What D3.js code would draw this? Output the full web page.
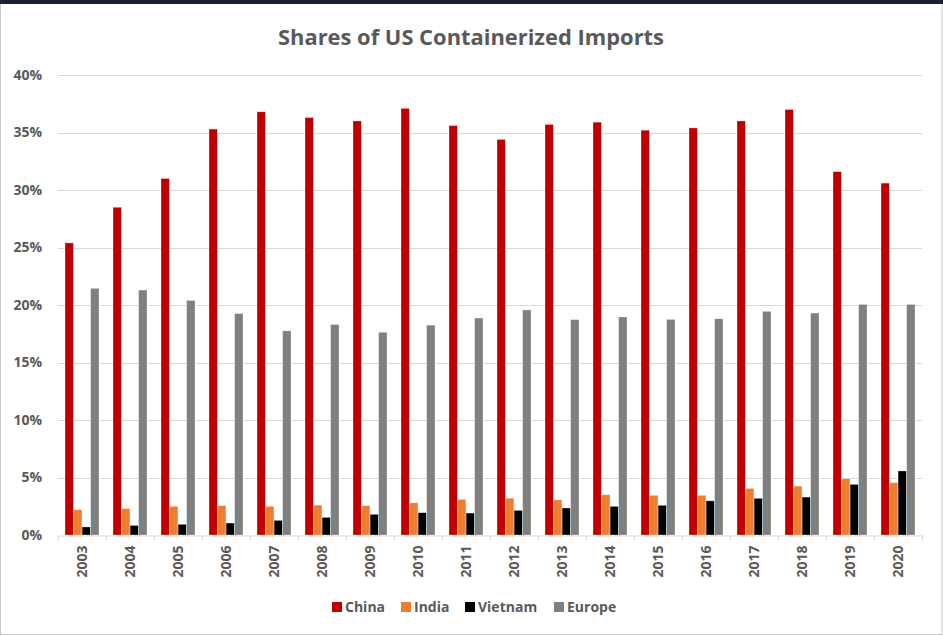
<!DOCTYPE html>
<html>
<head>
<meta charset="utf-8">
<script src="https://cdn.jsdelivr.net/npm/d3@7/dist/d3.min.js"></script>
<style>
html,body{margin:0;padding:0;background:#fff;}
svg{display:block;}
</style>
</head>
<body>
<svg id="chart" width="943" height="636"></svg>
<script>
const years = ["2003","2004","2005","2006","2007","2008","2009","2010","2011","2012","2013","2014","2015","2016","2017","2018","2019","2020"];
const seriesNames = ["China","India","Vietnam","Europe"];
const china   = [25.4,28.5,31.0,35.3,36.8,36.3,36.0,37.1,35.6,34.4,35.7,35.9,35.2,35.4,36.0,37.0,31.6,30.6];
const india   = [2.2,2.3,2.5,2.55,2.5,2.6,2.55,2.8,3.1,3.2,3.05,3.5,3.45,3.45,4.05,4.25,4.9,4.55];
const vietnam = [0.7,0.83,0.93,1.04,1.27,1.53,1.8,1.94,1.91,2.14,2.35,2.49,2.58,2.97,3.19,3.3,4.4,5.57];
const europe  = [21.45,21.3,20.4,19.25,17.75,18.3,17.63,18.25,18.87,19.57,18.73,18.96,18.75,18.8,19.45,19.3,20.05,20.05];
const yTicks = [0,5,10,15,20,25,30,35,40];
const colors = ["#C00000","#ED7D31","#000000","#808080"];
const title = "Shares of US Containerized Imports";

const valuesBySeries = [china, india, vietnam, europe];
const svg = d3.select("#chart");
const W = 943, H = 636;
const m = {left:58, right:21, top:75, bottom:101};
const font = "'Open Sans', 'Noto Sans', sans-serif";
const textColor = "#595959";

// frame
svg.append("rect").attr("x",0).attr("y",0).attr("width",W).attr("height",H).attr("fill","#fff");
svg.append("rect").attr("x",0.5).attr("y",0.5).attr("width",W-1.5).attr("height",H-2).attr("fill","none").attr("stroke","#c8c8c8").attr("stroke-width",1);
svg.append("rect").attr("x",0).attr("y",0).attr("width",W).attr("height",4).attr("fill","#1b2030");

const x = d3.scaleBand().domain(years).range([m.left, W - m.right]).paddingInner(0).paddingOuter(0);
const xs = d3.scaleBand().domain(seriesNames).range([0, x.bandwidth()]).paddingInner(0.02).paddingOuter(0.82);
const y = d3.scaleLinear().domain([0,40]).range([H - m.bottom, m.top]);

// gridlines
svg.append("g").selectAll("line").data(yTicks.filter(d=>d>0)).join("line")
  .attr("x1", m.left).attr("x2", W - m.right)
  .attr("y1", d => Math.round(y(d))+0.5).attr("y2", d => Math.round(y(d))+0.5)
  .attr("stroke","#d9d9d9").attr("stroke-width",1);

// y axis labels
const yAxis = d3.axisLeft(y).tickValues(yTicks).tickFormat(d => d + "%").tickSize(0).tickPadding(16);
const yg = svg.append("g").attr("transform", `translate(${m.left},0)`).call(yAxis);
yg.select(".domain").remove();
yg.selectAll("text").attr("font-family", font).attr("font-size", 14).attr("font-weight", "bold").attr("fill", textColor);

// bars
const data = [];
years.forEach((yr, i) => seriesNames.forEach((s, j) => data.push({yr, s, v: valuesBySeries[j][i], c: colors[j]})));
svg.append("g").selectAll("rect").data(data).join("rect")
  .attr("x", d => x(d.yr) + xs(d.s))
  .attr("width", xs.bandwidth())
  .attr("y", d => y(d.v))
  .attr("height", d => y(0) - y(d.v))
  .attr("fill", d => d.c)
  .attr("stroke", "#ffffff").attr("stroke-opacity", 0.5).attr("stroke-width", 0.6);

// x axis
const xAxis = d3.axisBottom(x).tickSize(0).tickPadding(0);
const xg = svg.append("g").attr("transform", `translate(0,${Math.round(y(0))+0.5})`).call(xAxis);
xg.select(".domain").attr("stroke","#d9d9d9");
xg.selectAll("text")
  .attr("font-family", font).attr("font-size", 14).attr("font-weight", "bold").attr("fill", textColor)
  .attr("transform", "rotate(-90)")
  .attr("text-anchor", "end")
  .attr("dx", "-10px").attr("dy", "0.35em").attr("y", 0).attr("x", 0);
// boundary ticks
const bounds = years.map(d => x(d)).concat([W - m.right]);
xg.selectAll("line.bound").data(bounds).join("line").attr("class","bound")
  .attr("x1", d => Math.round(d)+0.5).attr("x2", d => Math.round(d)+0.5)
  .attr("y1", 0).attr("y2", 5).attr("stroke","#d9d9d9");

// title
svg.append("text").attr("x", 471).attr("y", 45).attr("text-anchor","middle")
  .attr("font-family", font).attr("font-size", 22).attr("font-weight","bold").attr("fill", textColor)
  .attr("textLength", 386).attr("lengthAdjust", "spacingAndGlyphs")
  .text(title);

// legend
const legendX = [332, 401, 465, 554];
const lg = svg.append("g");
seriesNames.forEach((s, j) => {
  lg.append("rect").attr("x", legendX[j]).attr("y", 602).attr("width", 10).attr("height", 10).attr("fill", colors[j]);
  lg.append("text").attr("x", legendX[j] + 13).attr("y", 612).attr("font-family", font).attr("font-size", 14)
    .attr("font-weight","bold").attr("fill", textColor).text(s);
});
</script>
</body>
</html>
